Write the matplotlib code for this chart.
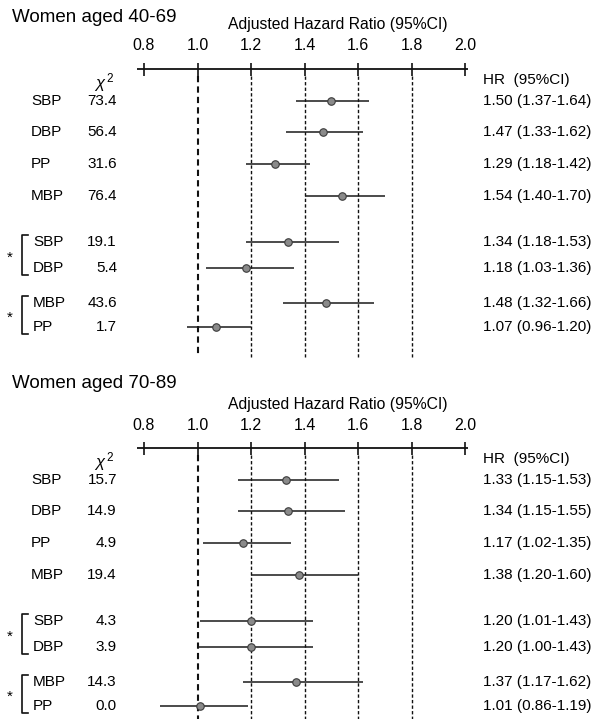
import matplotlib
matplotlib.use("Agg")
import matplotlib.pyplot as plt
from matplotlib import transforms

plt.rcParams["font.family"] = ["Liberation Sans", "DejaVu Sans"]
plt.rcParams["mathtext.fontset"] = "custom"
plt.rcParams["mathtext.rm"] = "Liberation Sans"
plt.rcParams["mathtext.it"] = "Liberation Sans:italic"

# ---- data ----
row_labels = ["SBP", "DBP", "PP", "MBP", "SBP", "DBP", "MBP", "PP"]

young_title = "Women aged 40-69"
young_chi2 = ["73.4", "56.4", "31.6", "76.4", "19.1", "5.4", "43.6", "1.7"]
young_hr = [1.50, 1.47, 1.29, 1.54, 1.34, 1.18, 1.48, 1.07]
young_lo = [1.37, 1.33, 1.18, 1.40, 1.18, 1.03, 1.32, 0.96]
young_hi = [1.64, 1.62, 1.42, 1.70, 1.53, 1.36, 1.66, 1.20]

old_title = "Women aged 70-89"
old_chi2 = ["15.7", "14.9", "4.9", "19.4", "4.3", "3.9", "14.3", "0.0"]
old_hr = [1.33, 1.34, 1.17, 1.38, 1.20, 1.20, 1.37, 1.01]
old_lo = [1.15, 1.15, 1.02, 1.20, 1.01, 1.00, 1.17, 0.86]
old_hi = [1.53, 1.55, 1.35, 1.60, 1.43, 1.43, 1.62, 1.19]

tick_values = [0.8, 1.0, 1.2, 1.4, 1.6, 1.8, 2.0]
ref_lines = [1.0, 1.2, 1.4, 1.6, 1.8]
bracket_pairs = [(4, 5), (6, 7)]

# ---- layout (pixels) ----
W, H = 605, 719
X08, PX_PER_UNIT = 144, 267.5
row_offsets = [32, 63, 95, 127, 173, 199, 234, 258]

fig = plt.figure(figsize=(W / 100, H / 100), dpi=100)
fig.patch.set_facecolor("white")


def fx(px):
    return px / W


def draw_panel(top_px, height_px, axis_px, line_end, title, title_dy, chi2, hr, lo, hi):
    ax = fig.add_axes([0, 1 - (top_px + height_px) / H, 1, height_px / H])
    ax.set_xlim(0.8 - X08 / PX_PER_UNIT, 0.8 + (W - X08) / PX_PER_UNIT)
    a = axis_px - top_px
    ax.set_ylim(height_px - a, -a)
    ax.axis("off")
    tr = transforms.blended_transform_factory(fig.transFigure, ax.transData)

    # scale axis
    ax.plot([0.775, 2.01], [0, 0], color="#111111", lw=1.3, solid_capstyle="butt")
    ax.vlines(tick_values, -6, 7, color="#111111", lw=1.2)
    for t in tick_values:
        ax.text(t, -23, f"{t:.1f}", ha="center", va="center", fontsize=11.5)
    ax.text(fx(338), -44, "Adjusted Hazard Ratio (95%CI)", transform=tr,
            ha="center", va="center", fontsize=11.3)
    ax.text(fx(12), title_dy, title, transform=tr, ha="left", va="center",
            fontsize=13.5)

    # reference lines
    ax.vlines(1.0, 7, line_end, color="#111111", lw=1.5, linestyles=(0, (3, 2)))
    ax.vlines(ref_lines[1:], 7, line_end, color="#111111", lw=1.0,
              linestyles=(0, (2.4, 1.6)))

    # headers
    ax.text(fx(104), 14, r"$\mathit{\chi}^{\,2}$", transform=tr, ha="center",
            va="center", fontsize=12)
    ax.text(fx(483), 11, "HR  (95%CI)", transform=tr, ha="left", va="center",
            fontsize=11)

    # rows
    for i, lab in enumerate(row_labels):
        y = row_offsets[i]
        lab_x = 33 if i >= 4 else 31
        ax.text(fx(lab_x), y, lab, transform=tr, ha="left", va="center", fontsize=11)
        ax.text(fx(117), y, chi2[i], transform=tr, ha="right", va="center",
                fontsize=11)
        ax.text(fx(483), y, f"{hr[i]:.2f} ({lo[i]:.2f}-{hi[i]:.2f})", transform=tr,
                ha="left", va="center", fontsize=11)
        ax.plot([lo[i], hi[i]], [y, y], color="#1a1a1a", lw=1.1,
                solid_capstyle="butt")
        ax.plot(hr[i], y, "o", ms=5.4, mfc="#8a8a8a", mec="#3a3a3a", mew=0.8)

    # brackets for paired models
    for r0, r1 in bracket_pairs:
        y0, y1 = row_offsets[r0] - 7, row_offsets[r1] + 7
        ax.plot([fx(28), fx(22), fx(22), fx(28)], [y0, y0, y1, y1], transform=tr,
                color="#111111", lw=1.2)
        ax.text(fx(10), (y0 + y1) / 2 + 3, "*", transform=tr, ha="center",
                va="center", fontsize=11)
    return ax


draw_panel(0, 360, 69, 288, young_title, -52, young_chi2, young_hr, young_lo, young_hi)
draw_panel(360, 359, 448, 280, old_title, -64, old_chi2, old_hr, old_lo, old_hi)

fig.savefig("out.png", dpi=100, facecolor="white")
